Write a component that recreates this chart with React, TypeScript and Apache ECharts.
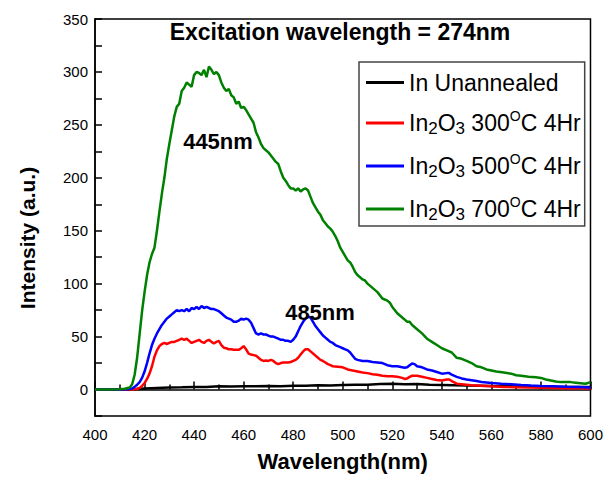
import React, { useEffect, useRef } from "react";
import * as echarts from "echarts";

const FONT = "'Liberation Sans', Arial, Helvetica, sans-serif";

const seriesNames = ["In Unannealed", "In2O3 300C 4Hr", "In2O3 500C 4Hr", "In2O3 700C 4Hr"];

const blackX = [400, 410, 415, 420, 425, 430, 435, 440, 445, 450, 455, 460, 465, 470, 475, 480, 485, 490, 495, 500, 505, 510, 515, 520, 525, 530, 535, 540, 545, 550, 555, 560, 565, 570, 575, 580, 585, 590, 595, 600];
const blackY = [0, 0, 0.3, 1, 1.5, 2, 2.2, 2.5, 2.3, 3, 2.8, 3.2, 3, 3.3, 3, 3.6, 3.5, 4, 3.8, 4.2, 4.5, 4.6, 5.2, 5.5, 5, 5.2, 4.6, 4.3, 4, 3.7, 3.6, 3.3, 3.2, 3, 2.9, 2.8, 2.6, 2.5, 2.4, 2.3];

const redX = [400, 415, 417, 418, 419, 420, 421, 422, 423, 424, 425, 426, 427, 428, 429, 430, 431, 432, 433, 434, 435, 436, 437, 438, 439, 440, 441, 442, 443, 444, 445, 446, 447, 448, 449, 450, 451, 452, 453, 454, 455, 456, 457, 458, 459, 460, 461, 462, 463, 464, 465, 466, 467, 468, 469, 470, 471, 472, 473, 474, 475, 476, 477, 478, 479, 480, 481, 482, 483, 484, 485, 486, 487, 488, 489, 490, 491, 492, 493, 494, 495, 496, 498, 500, 502, 504, 506, 508, 510, 512, 514, 516, 518, 520, 522, 524, 525, 526, 527, 528, 530, 532, 534, 536, 538, 540, 542, 543, 544, 546, 548, 550, 552, 556, 560, 565, 570, 575, 580, 585, 590, 595, 600];
const redY = [0, 0, 0.5, 1.5, 3.5, 6, 10, 15, 22, 31, 37, 41, 43, 44, 43, 44, 45, 45, 46, 47, 48, 47, 48, 46, 44, 45, 46, 47, 45, 44, 46, 47, 45, 43.5, 45, 46, 42, 39.5, 39, 38, 38, 37.5, 37.5, 37.5, 39, 41, 38, 34, 33, 32.5, 32, 30, 28, 27, 27.5, 27, 28, 27, 25, 24, 25, 25.5, 25.5, 25.5, 26, 27, 28, 30, 33, 36, 38, 38, 36, 34, 32, 30, 28, 27, 25.5, 24, 23, 22, 21.5, 21, 19, 18, 17, 16, 15.5, 14.5, 14, 13, 12.5, 12.5, 12, 11, 10, 10.5, 12, 13, 13, 12, 11, 10, 9, 8.5, 9.5, 9.5, 8, 5.5, 5, 4.5, 4, 3.5, 3, 2.5, 2.2, 2, 1.8, 1.5, 1.3, 1.1, 1];

const blueX = [400, 410, 413, 415, 416, 417, 418, 419, 420, 421, 422, 423, 424, 425, 426, 427, 428, 429, 430, 431, 432, 433, 434, 435, 436, 437, 438, 439, 440, 441, 442, 443, 444, 445, 446, 447, 448, 449, 450, 451, 452, 453, 454, 455, 456, 457, 458, 459, 460, 461, 462, 463, 464, 465, 466, 467, 468, 469, 470, 471, 472, 473, 474, 475, 476, 477, 478, 479, 480, 481, 482, 483, 484, 485, 486, 487, 488, 489, 490, 491, 492, 493, 494, 495, 496, 497, 498, 499, 500, 501, 502, 503, 504, 505, 506, 508, 510, 512, 514, 516, 518, 520, 522, 524, 525, 526, 527, 528, 529, 530, 532, 534, 536, 538, 540, 542, 543, 544, 546, 548, 550, 552, 554, 556, 558, 560, 564, 568, 572, 576, 580, 585, 590, 595, 600];
const blueY = [0, 0, 0.3, 1, 2.5, 4.5, 7, 11, 17, 25, 34, 42, 48, 53, 57, 61, 64, 67, 69, 71, 73, 75, 74, 75, 74, 76, 74, 77, 76, 78, 76, 79, 77, 78, 77, 76, 76, 75, 74, 72, 70, 68, 67, 66, 64, 64, 65, 67, 66, 67, 66, 63, 58, 53, 52, 53, 52, 52, 51, 50, 50, 49, 48, 47, 47, 46, 46, 45, 47, 50, 55, 60, 64, 67, 69, 68, 64, 60, 57, 54, 51, 49, 47, 45, 44, 42, 41, 40, 39, 38, 37, 35, 32, 29, 28, 27, 27, 26, 25.5, 25, 23, 22, 22, 21, 20.5, 21, 23, 24.5, 24, 22, 21, 19, 18, 16.5, 15, 15.5, 15.5, 14, 12, 10.5, 9.5, 8.8, 8, 7.2, 6.7, 6.2, 5.5, 5, 4.3, 3.8, 3.4, 3, 2.6, 2.3, 2];

const greenX = [400, 405, 410, 412, 414, 415, 416, 417, 418, 419, 420, 421, 422, 423, 424, 425, 426, 427, 428, 429, 430, 431, 432, 433, 434, 435, 436, 437, 438, 439, 440, 441, 442, 443, 444, 445, 446, 447, 448, 449, 450, 451, 452, 453, 454, 455, 456, 457, 458, 459, 460, 461, 462, 463, 464, 465, 466, 467, 468, 469, 470, 471, 472, 473, 474, 475, 476, 477, 478, 479, 480, 481, 482, 483, 484, 485, 486, 487, 488, 489, 490, 491, 492, 493, 494, 495, 496, 497, 498, 499, 500, 501, 502, 503, 504, 505, 506, 507, 508, 509, 510, 512, 514, 516, 518, 519, 520, 522, 524, 525, 526, 527, 528, 530, 532, 534, 536, 538, 540, 542, 544, 546, 548, 550, 552, 554, 556, 558, 560, 562, 565, 568, 570, 572, 575, 578, 580, 582, 584, 586, 588, 590, 592, 594, 596, 598, 600];
const greenY = [0, 0, 0.3, 0.8, 2, 5, 14, 30, 52, 74, 92, 108, 120, 128, 134, 150, 168, 185, 200, 218, 232, 245, 258, 267, 270, 282, 285, 290, 288, 286, 297, 300, 299, 297, 302, 295, 305, 302, 298, 300, 297, 290, 285, 282, 284, 278, 276, 270, 272, 266, 267, 264, 260, 256, 252, 243, 238, 232, 228, 226, 224, 221, 218, 215, 213, 206, 200, 197, 193, 190, 190, 188, 190, 187, 189, 190, 188, 182, 176, 172, 168, 165, 160, 157, 154, 152, 149, 145, 140, 134, 130, 126, 122, 120, 116, 111, 108, 106, 104, 103, 100, 96, 92, 86, 84, 82, 78, 72, 68, 66, 64, 64, 61, 57, 53, 48, 45, 42, 39, 37, 35, 30, 29, 27, 25, 22, 21, 19, 18, 17, 16, 15, 13.5, 13, 12, 11.5, 11, 9.5, 8.5, 7.5, 7, 7, 7, 6.5, 6, 5.5, 7];

const xTickMin = 400;
const xTickMax = 600;
const xTickStep = 20;
const yTickMin = -25;
const yTickMax = 350;
const yTickStep = 25;

const titleText = "Excitation wavelength = 274nm";
const peakLabels = ["445nm", "485nm"];

function zip(xs: number[], ys: number[]) {
  return xs.map((x, i) => [x, ys[i]]);
}

export default function App() {
  const ref = useRef<HTMLDivElement>(null);
  useEffect(() => {
    if (!ref.current) return;
    const chart = echarts.init(ref.current, undefined, { renderer: "svg" });
    const colors = ["#000000", "#ff0000", "#0000ff", "#008000"];
    const datasets = [zip(blackX, blackY), zip(redX, redY), zip(blueX, blueY), zip(greenX, greenY)];
    const option: any = {
      animation: false,
      backgroundColor: "#ffffff",
      textStyle: { fontFamily: FONT },
      grid: { left: 95, right: 14, top: 19, bottom: 56, show: true, borderColor: "#000", borderWidth: 1.5 },
      legend: {
        orient: "vertical",
        left: 359,
        top: 62,
        padding: [9, 4, 3, 7],
        itemGap: 15,
        itemWidth: 38,
        itemHeight: 3,
        icon: "rect",
        borderColor: "#444",
        borderWidth: 1.5,
        backgroundColor: "#fff",
        selectedMode: false,
        data: seriesNames,
        formatter: (name: string) => {
          if (name === seriesNames[0]) return "{n|" + name + "}";
          const m = name.match(/ (\d+)C/);
          const t = m ? m[1] : "";
          return "{n|In}{sub|2}{n|O}{sub|3}{n| " + t + "}{sup|O}{n|C 4Hr}";
        },
        textStyle: {
          fontFamily: FONT,
          color: "#000",
          rich: {
            n: { fontSize: 23, lineHeight: 28, fontFamily: FONT, color: "#000" },
            sub: { fontSize: 17, fontFamily: FONT, color: "#000", verticalAlign: "bottom" },
            sup: { fontSize: 14, fontFamily: FONT, color: "#000", verticalAlign: "top" },
          },
        },
      },
      xAxis: {
        type: "value",
        min: xTickMin,
        max: xTickMax,
        interval: xTickStep,
        name: "Wavelength(nm)",
        nameLocation: "middle",
        nameGap: 34,
        nameTextStyle: { fontSize: 22, fontWeight: "bold", color: "#000", fontFamily: FONT },
        axisLine: { show: true, lineStyle: { color: "#000", width: 1.5 } },
        axisTick: { show: true, inside: true, length: 8, lineStyle: { color: "#000", width: 1.5 } },
        minorTick: { show: true, splitNumber: 2, length: 5, lineStyle: { color: "#000", width: 1.5 } },
        axisLabel: { color: "#000", fontSize: 15, margin: 11, fontFamily: FONT },
        splitLine: { show: false },
      },
      yAxis: {
        type: "value",
        min: yTickMin,
        max: yTickMax,
        interval: yTickStep,
        axisLine: { show: true, lineStyle: { color: "#000", width: 1.5 } },
        axisTick: { show: true, inside: true, length: 7, lineStyle: { color: "#000", width: 1.5 } },
        axisLabel: {
          color: "#000",
          fontSize: 15,
          margin: 7,
          fontFamily: FONT,
          formatter: (v: number) => (v >= 0 && v % 50 === 0 ? String(v) : ""),
        },
        splitLine: { show: false },
      },
      graphic: [
        {
          type: "text",
          x: 340,
          y: 32,
          z: 100,
          style: {
            text: titleText,
            font: "bold 23px " + FONT,
            fill: "#000",
            align: "center",
            verticalAlign: "middle",
            textAlign: "center",
            textVerticalAlign: "middle",
          },
        },
        {
          type: "text",
          x: 218,
          y: 141,
          z: 100,
          style: {
            text: peakLabels[0],
            font: "bold 22px " + FONT,
            fill: "#000",
            align: "center",
            verticalAlign: "middle",
            textAlign: "center",
            textVerticalAlign: "middle",
          },
        },
        {
          type: "text",
          x: 320,
          y: 312,
          z: 100,
          style: {
            text: peakLabels[1],
            font: "bold 22px " + FONT,
            fill: "#000",
            align: "center",
            verticalAlign: "middle",
            textAlign: "center",
            textVerticalAlign: "middle",
          },
        },
        {
          type: "text",
          x: 27,
          y: 238,
          rotation: Math.PI / 2,
          z: 100,
          style: {
            text: "Intensity (a.u.)",
            font: "bold 21px " + FONT,
            fill: "#000",
            align: "center",
            verticalAlign: "middle",
            textAlign: "center",
            textVerticalAlign: "middle",
          },
        },
      ],
      series: seriesNames.map((name, i) => ({
        name,
        type: "line",
        data: datasets[i],
        symbol: "none",
        smooth: false,
        color: colors[i],
        lineStyle: { color: colors[i], width: 2.5 },
        z: 2 + i,
      })),
    };
    chart.setOption(option);
    return () => chart.dispose();
  }, []);
  return <div ref={ref} style={{ width: 606, height: 477, position: "absolute", left: 0, top: 0 }} />;
}
